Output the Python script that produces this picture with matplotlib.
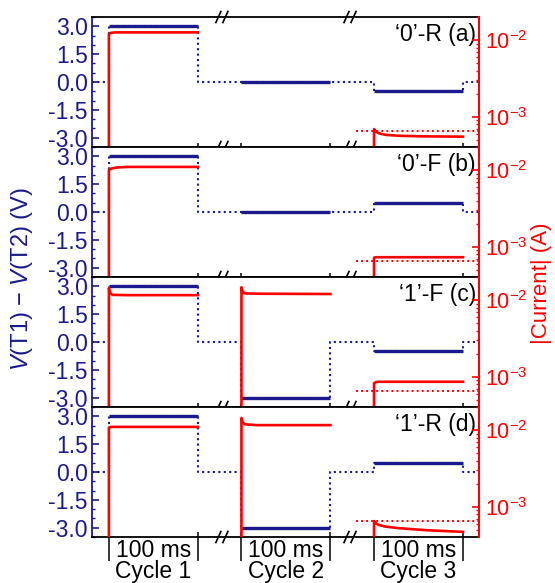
import matplotlib
matplotlib.use("Agg")
import matplotlib.pyplot as plt
from matplotlib.ticker import FixedLocator, MultipleLocator, FormatStrFormatter, LogLocator, NullFormatter

plt.rcParams['font.family'] = ['Liberation Sans', 'DejaVu Sans']
plt.rcParams['axes.unicode_minus'] = False
plt.rcParams['mathtext.fontset'] = 'custom'
plt.rcParams['mathtext.rm'] = 'Liberation Sans'
plt.rcParams['mathtext.it'] = 'Liberation Sans:italic'

NAVY = '#1a1a8c'
RED = '#ff0000'

# time axis (ms, compressed: breaks between cycles)
pulse_start = [19, 168, 317]
pulse_len = 100
t_end = 435
break_pos = [146, 290]
cycle_names = ['Cycle 1', 'Cycle 2', 'Cycle 3']

panel_labels = ['‘0’-R (a)', '‘0’-F (b)', '‘1’-F (c)', '‘1’-R (d)']

# applied voltage V(T1)-V(T2) for the three cycles, per panel
volt_a = [3.0, 0.0, -0.5]
volt_b = [3.0, 0.0, 0.5]
volt_c = [3.0, -3.0, -0.5]
volt_d = [3.0, -3.0, 0.5]

# |current| traces (A); 1e-6 stands for "off the bottom of the axis"
cur_a1_t = [19, 19, 21, 26, 60, 119]
cur_a1 = [1e-6, 1.20e-2, 1.24e-2, 1.26e-2, 1.26e-2, 1.26e-2]
cur_a3_t = [317, 317, 318, 322, 330, 345, 370, 417]
cur_a3 = [1e-6, 6.9e-4, 6.6e-4, 6.1e-4, 5.8e-4, 5.65e-4, 5.55e-4, 5.5e-4]

cur_b1_t = [19, 19, 22, 28, 40, 119]
cur_b1 = [1e-6, 1.01e-2, 1.05e-2, 1.08e-2, 1.10e-2, 1.10e-2]
cur_b3_t = [317, 317, 319, 417]
cur_b3 = [1e-6, 7.2e-4, 7.3e-4, 7.3e-4]

cur_c1_t = [19, 19, 20, 23, 40, 119]
cur_c1 = [1e-6, 1.44e-2, 1.25e-2, 1.17e-2, 1.16e-2, 1.16e-2]
cur_c2_t = [168, 168, 169, 172, 190, 268]
cur_c2 = [1e-6, 1.47e-2, 1.30e-2, 1.22e-2, 1.21e-2, 1.20e-2]
cur_c3_t = [317, 317, 319, 322, 417]
cur_c3 = [1e-6, 8.2e-4, 8.5e-4, 8.6e-4, 8.6e-4]

cur_d1_t = [19, 19, 22, 40, 119]
cur_d1 = [1e-6, 1.08e-2, 1.10e-2, 1.10e-2, 1.10e-2]
cur_d2_t = [168, 168, 169, 172, 185, 268]
cur_d2 = [1e-6, 1.44e-2, 1.28e-2, 1.19e-2, 1.16e-2, 1.16e-2]
cur_d3_t = [317, 317, 318, 322, 330, 345, 375, 417]
cur_d3 = [1e-6, 6.5e-4, 6.2e-4, 5.8e-4, 5.5e-4, 5.25e-4, 4.95e-4, 4.7e-4]

# threshold reference level (dotted red)
thr_t = [297, 435]
thr_i = [6.5e-4, 6.5e-4]

volts = [volt_a, volt_b, volt_c, volt_d]
currents = [
    [(cur_a1_t, cur_a1), (cur_a3_t, cur_a3)],
    [(cur_b1_t, cur_b1), (cur_b3_t, cur_b3)],
    [(cur_c1_t, cur_c1), (cur_c2_t, cur_c2), (cur_c3_t, cur_c3)],
    [(cur_d1_t, cur_d1), (cur_d2_t, cur_d2), (cur_d3_t, cur_d3)],
]

W, H = 555, 583
fig = plt.figure(figsize=(W / 100, H / 100), dpi=100)

left, right = 92, 479
top0, ph = 17, 130
FS = 16.5

for i in range(4):
    top = top0 + ph * i
    ax = fig.add_axes([left / W, 1 - (top + ph) / H, (right - left) / W, ph / H])
    ax2 = ax.twinx()

    # --- voltage (left axis) ---
    v = volts[i]
    tt = [0]
    vv = [0.0]
    for s, lev in zip(pulse_start, v):
        tt += [s, s, s + pulse_len, s + pulse_len]
        vv += [0.0, lev, lev, 0.0]
    tt.append(t_end)
    vv.append(0.0)
    ax.plot(tt, vv, color=NAVY, lw=1.5, ls=(0, (1, 1.6)))
    for s, lev in zip(pulse_start, v):
        ax.plot([s, s + pulse_len], [lev, lev], color=NAVY, lw=2.4, solid_capstyle='butt')

    ax.set_xlim(0, t_end)
    ax.set_ylim(-3.5, 3.5)
    ax.yaxis.set_major_locator(FixedLocator([-3.0, -1.5, 0.0, 1.5, 3.0]))
    ax.yaxis.set_minor_locator(MultipleLocator(0.5))
    ax.yaxis.set_major_formatter(FormatStrFormatter('%.1f'))
    ax.tick_params(axis='y', which='major', direction='in', length=5, width=1.2,
                   color=NAVY, labelcolor=NAVY, labelsize=FS, pad=3)
    ax.tick_params(axis='y', which='minor', direction='in', length=2.5, width=1.0, color=NAVY)

    xt = []
    for s in pulse_start:
        xt += [s, s + pulse_len]
    ax.xaxis.set_major_locator(FixedLocator(xt))
    ax.xaxis.set_major_formatter(NullFormatter())
    if i < 3:
        ax.tick_params(axis='x', which='major', direction='inout', length=6, width=1.1, color='black')
    else:
        ax.xaxis.set_minor_locator(FixedLocator(xt))
        ax.xaxis.remove_overlapping_locs = False
        ax.tick_params(axis='x', which='major', direction='out', length=17, width=1.1, color='black')
        ax.tick_params(axis='x', which='minor', direction='in', length=3.5, width=1.1, color='black')

    for side in ['top', 'bottom']:
        ax.spines[side].set_color('black')
        ax.spines[side].set_linewidth(1.3)
    ax.spines['left'].set_color(NAVY)
    ax.spines['left'].set_linewidth(1.3)
    ax.spines['right'].set_visible(False)

    # --- current (right axis, log) ---
    for t_seg, i_seg in currents[i]:
        ax2.plot(t_seg, i_seg, color=RED, lw=1.9, solid_joinstyle='round')
    ax2.plot(thr_t, thr_i, color=RED, lw=1.4, ls=(0, (1, 1.6)))
    ax2.set_yscale('log')
    ax2.set_ylim(4.03e-4, 2.0e-2)
    ax2.set_xlim(0, t_end)
    ax2.yaxis.set_major_locator(LogLocator(base=10, numticks=10))
    ax2.yaxis.set_minor_locator(LogLocator(base=10, subs=range(2, 10), numticks=10))
    ax2.yaxis.set_minor_formatter(NullFormatter())
    ax2.tick_params(axis='y', which='major', direction='in', length=5, width=1.2,
                    color=RED, labelcolor=RED, labelsize=15.5, pad=4)
    ax2.tick_params(axis='y', which='minor', direction='in', length=2.5, width=1.0, color=RED)
    ax2.spines['right'].set_color(RED)
    ax2.spines['right'].set_linewidth(1.5)
    for side in ['top', 'bottom', 'left']:
        ax2.spines[side].set_visible(False)

    # panel label
    ax.text(0.992, 0.865, panel_labels[i], transform=ax.transAxes, ha='right', va='center',
            fontsize=FS, color='black', zorder=5)

    # axis break marks "//"
    dx = 2.5 / (right - left)
    dy = 5.5 / ph
    gap = 3.5 / (right - left)
    ys = [0.0] if i > 0 else [0.0, 1.0]
    for bp in break_pos:
        xa = bp / t_end
        for yb in ys:
            for off in (-gap, gap):
                ax.plot([xa + off - dx, xa + off + dx], [yb - dy, yb + dy], color='black', lw=1.2,
                        transform=ax.transAxes, clip_on=False, zorder=6)

    if i == 3:
        for s, name in zip(pulse_start, cycle_names):
            xm = s + pulse_len / 2
            ax.text(xm, -0.155, '100 ms', transform=ax.get_xaxis_transform(),
                    ha='center', va='baseline', fontsize=FS)
            ax.text(xm, -0.318, name, transform=ax.get_xaxis_transform(),
                    ha='center', va='baseline', fontsize=FS)

fig.text(22 / W, 1 - 279 / H, '$V$(T1) − $V$(T2) (V)', rotation=90, ha='center', va='center',
         fontsize=17, color=NAVY)
fig.text(542 / W, 1 - 283 / H, '|Current| (A)', rotation=90, ha='center', va='center',
         fontsize=16, color=RED)

fig.savefig('out.png', dpi=100)
